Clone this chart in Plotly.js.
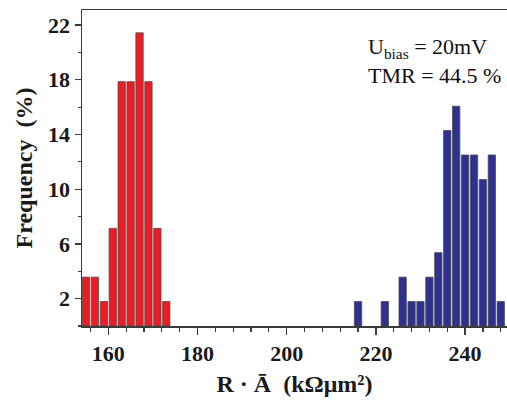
<!DOCTYPE html>
<html>
<head>
<meta charset="utf-8">
<script src="https://cdn.plot.ly/plotly-3.0.1.min.js"></script>
<style>html,body{margin:0;padding:0;background:#fff;}#chart{width:507px;height:401px;}</style>
</head>
<body>
<div id="chart"></div>
<script>
// Parallel-state distribution (red)
const redX = [155, 157, 159, 161, 163, 165, 167, 169, 171, 173];
const redY = [3.57, 3.57, 1.79, 7.14, 17.86, 17.86, 21.43, 17.86, 7.14, 1.79];
// Antiparallel-state distribution (blue)
const blueX = [216, 222, 226, 228, 230, 232, 234, 236, 238, 240, 242, 244, 246, 248];
const blueY = [1.79, 1.79, 3.57, 1.79, 1.79, 3.57, 5.36, 14.29, 16.07, 12.5, 12.5, 10.71, 12.5, 1.79];
const yTicks = [2, 6, 10, 14, 18, 22];
const xTicks = [160, 180, 200, 220, 240];

const serif = 'Liberation Serif, Times New Roman, serif';
const axisCol = '#3a3a3a';

const traces = [
  {type: 'bar', x: redX, y: redY, width: 1.64, marker: {color: '#ED1C24', line: {color: '#4a4a4a', width: 0.8}}},
  {type: 'bar', x: blueX, y: blueY, width: 1.64, marker: {color: '#2E3192', line: {color: '#4a4a4a', width: 0.8}}}
];

const layout = {
  width: 507, height: 401,
  margin: {l: 82, r: 0, t: 10, b: 75},
  paper_bgcolor: '#fff', plot_bgcolor: '#fff',
  showlegend: false,
  bargap: 0,
  xaxis: {
    range: [154.1, 249.4],
    tickvals: xTicks,
    ticks: 'outside', ticklen: 7, tickwidth: 1.3, tickcolor: axisCol,
    minor: {dtick: 4, tick0: 0, ticks: 'outside', ticklen: 4, tickwidth: 1.2, tickcolor: axisCol},
    showline: true, linecolor: axisCol, linewidth: 1.5, mirror: true,
    showgrid: false, zeroline: false,
    tickfont: {family: serif, size: 22, color: '#1a1a1a', weight: 'bold'},
    title: {text: '<b>R · Ā  (kΩμm²)</b>', font: {family: serif, size: 24, color: '#1a1a1a'}, standoff: 10}
  },
  yaxis: {
    range: [0, 23.1],
    tickvals: yTicks,
    ticks: 'outside', ticklen: 6, tickwidth: 1.3, tickcolor: axisCol,
    minor: {dtick: 2, tick0: 0, ticks: 'outside', ticklen: 3, tickwidth: 1.2, tickcolor: axisCol},
    showline: true, linecolor: axisCol, linewidth: 1.5, mirror: false,
    showgrid: false, zeroline: false,
    tickfont: {family: serif, size: 22, color: '#1a1a1a', weight: 'bold'},
    title: {text: '<b>Frequency  (%)</b>', font: {family: serif, size: 24, color: '#1a1a1a'}, standoff: 8}
  },
  annotations: [{
    xref: 'paper', yref: 'paper', x: 0.668, y: 0.93, xanchor: 'left', yanchor: 'top',
    align: 'left', showarrow: false,
    text: 'U<sub>bias</sub> = 20mV<br>TMR = 44.5 %',
    font: {family: serif, size: 22, color: '#111'}
  }]
};

Plotly.newPlot('chart', traces, layout, {displayModeBar: false, staticPlot: true});
</script>
</body>
</html>
